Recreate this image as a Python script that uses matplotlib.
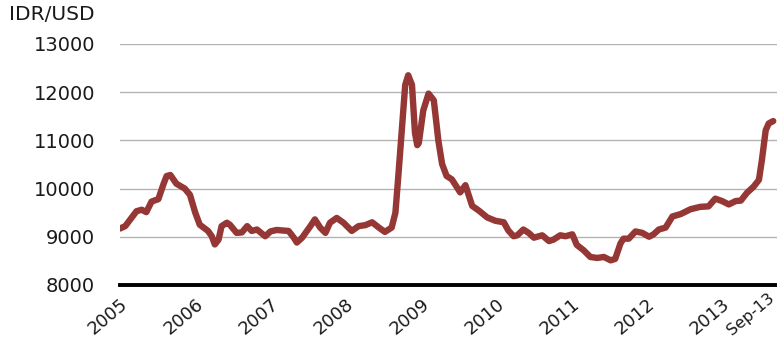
import matplotlib
matplotlib.use("Agg")
import matplotlib.pyplot as plt
import matplotlib.transforms as mtransforms

# Decimal-year positions and IDR/USD values
years = [2005.00, 2005.07, 2005.22, 2005.29, 2005.35, 2005.42, 2005.51, 2005.58, 2005.62, 2005.67,
         2005.75, 2005.86, 2005.93, 2006.00, 2006.06, 2006.17, 2006.22, 2006.26, 2006.31, 2006.35,
         2006.42, 2006.46, 2006.55, 2006.62, 2006.69, 2006.75, 2006.82, 2006.93, 2007.00, 2007.08,
         2007.24, 2007.31, 2007.35, 2007.42, 2007.53, 2007.59, 2007.66, 2007.73, 2007.79, 2007.88,
         2007.97, 2008.08, 2008.17, 2008.26, 2008.35, 2008.44, 2008.52, 2008.61, 2008.66, 2008.70,
         2008.75, 2008.79, 2008.83, 2008.88, 2008.92, 2008.95, 2008.97, 2009.03, 2009.10, 2009.17,
         2009.21, 2009.23, 2009.28, 2009.34, 2009.41, 2009.48, 2009.52, 2009.59, 2009.63, 2009.68,
         2009.77, 2009.88, 2009.99, 2010.10, 2010.16, 2010.23, 2010.28, 2010.36, 2010.43, 2010.50,
         2010.61, 2010.70, 2010.76, 2010.85, 2010.92, 2011.01, 2011.07, 2011.16, 2011.25, 2011.34,
         2011.43, 2011.52, 2011.58, 2011.65, 2011.69, 2011.76, 2011.85, 2011.94, 2012.03, 2012.09,
         2012.16, 2012.25, 2012.34, 2012.45, 2012.58, 2012.71, 2012.82, 2012.91, 2013.00, 2013.09,
         2013.18, 2013.25, 2013.33, 2013.42, 2013.49, 2013.53, 2013.58, 2013.62, 2013.68]
idr_usd = [9170, 9220, 9530, 9560, 9510, 9730, 9780, 10100, 10260, 10280,
           10100, 10000, 9870, 9500, 9250, 9120, 9010, 8840, 8940, 9220,
           9290, 9250, 9080, 9090, 9220, 9120, 9150, 9010, 9110, 9140,
           9120, 8980, 8880, 8980, 9220, 9360, 9190, 9080, 9290, 9390,
           9290, 9120, 9220, 9240, 9300, 9190, 9100, 9190, 9500, 10290,
           11320, 12150, 12350, 12150, 11150, 10900, 10940, 11620, 11970, 11830,
           11280, 11000, 10510, 10260, 10190, 10020, 9920, 10070, 9880, 9640,
           9540, 9400, 9330, 9300, 9130, 9010, 9030, 9150, 9080, 8980,
           9030, 8910, 8940, 9030, 9010, 9050, 8830, 8720, 8580, 8560,
           8580, 8510, 8540, 8860, 8960, 8960, 9110, 9080, 9000, 9050,
           9150, 9190, 9420, 9470, 9570, 9620, 9630, 9790, 9740, 9670,
           9740, 9750, 9910, 10040, 10180, 10600, 11210, 11350, 11400]

tick_pos = [2005, 2006, 2007, 2008, 2009, 2010, 2011, 2012, 2013, 2013.68]
tick_labels = ["2005", "2006", "2007", "2008", "2009", "2010", "2011", "2012", "2013", "Sep-13"]
y_ticks = [8000, 9000, 10000, 11000, 12000, 13000]

plt.rcParams['font.family'] = ['DejaVu Sans']

fig = plt.figure(figsize=(7.77, 3.38), dpi=100)
ax = fig.add_axes([0.1544, 0.157, 0.8456, 0.713])

ax.plot(years, idr_usd, color="#953735", linewidth=4.6, solid_capstyle="round",
        solid_joinstyle="round", zorder=3)

ax.set_xlim(2005, 2013.73)
ax.set_ylim(8000, 13000)
ax.set_yticks(y_ticks)
ax.set_yticklabels([str(v) for v in y_ticks], fontsize=14, color="#1a1a1a")
ax.set_xticks(tick_pos)
ax.set_xticklabels(tick_labels, fontsize=13, rotation=40, ha="right",
                   rotation_mode="anchor", color="#1a1a1a")
ax.tick_params(axis="both", length=0)
ax.tick_params(axis="y", pad=18)
ax.tick_params(axis="x", pad=7)
for lbl in ax.get_xticklabels():
    if lbl.get_text() == "Sep-13":
        lbl.set_fontsize(11.5)
        lbl.set_transform(lbl.get_transform() +
                          mtransforms.ScaledTranslation(-6 / 100, 4 / 100, fig.dpi_scale_trans))

ax.grid(axis="y", color="#b3b3b3", linewidth=1.0, zorder=0)
ax.grid(axis="x", visible=False)
for s in ["left", "right", "top"]:
    ax.spines[s].set_visible(False)
ax.spines["bottom"].set_linewidth(2.8)
ax.spines["bottom"].set_color("black")
ax.spines["bottom"].set_zorder(4)

fig.text(0.012, 0.93, "IDR/USD", fontsize=14.5, color="#1a1a1a", ha="left", va="bottom")

fig.savefig("out.png", dpi=100)
